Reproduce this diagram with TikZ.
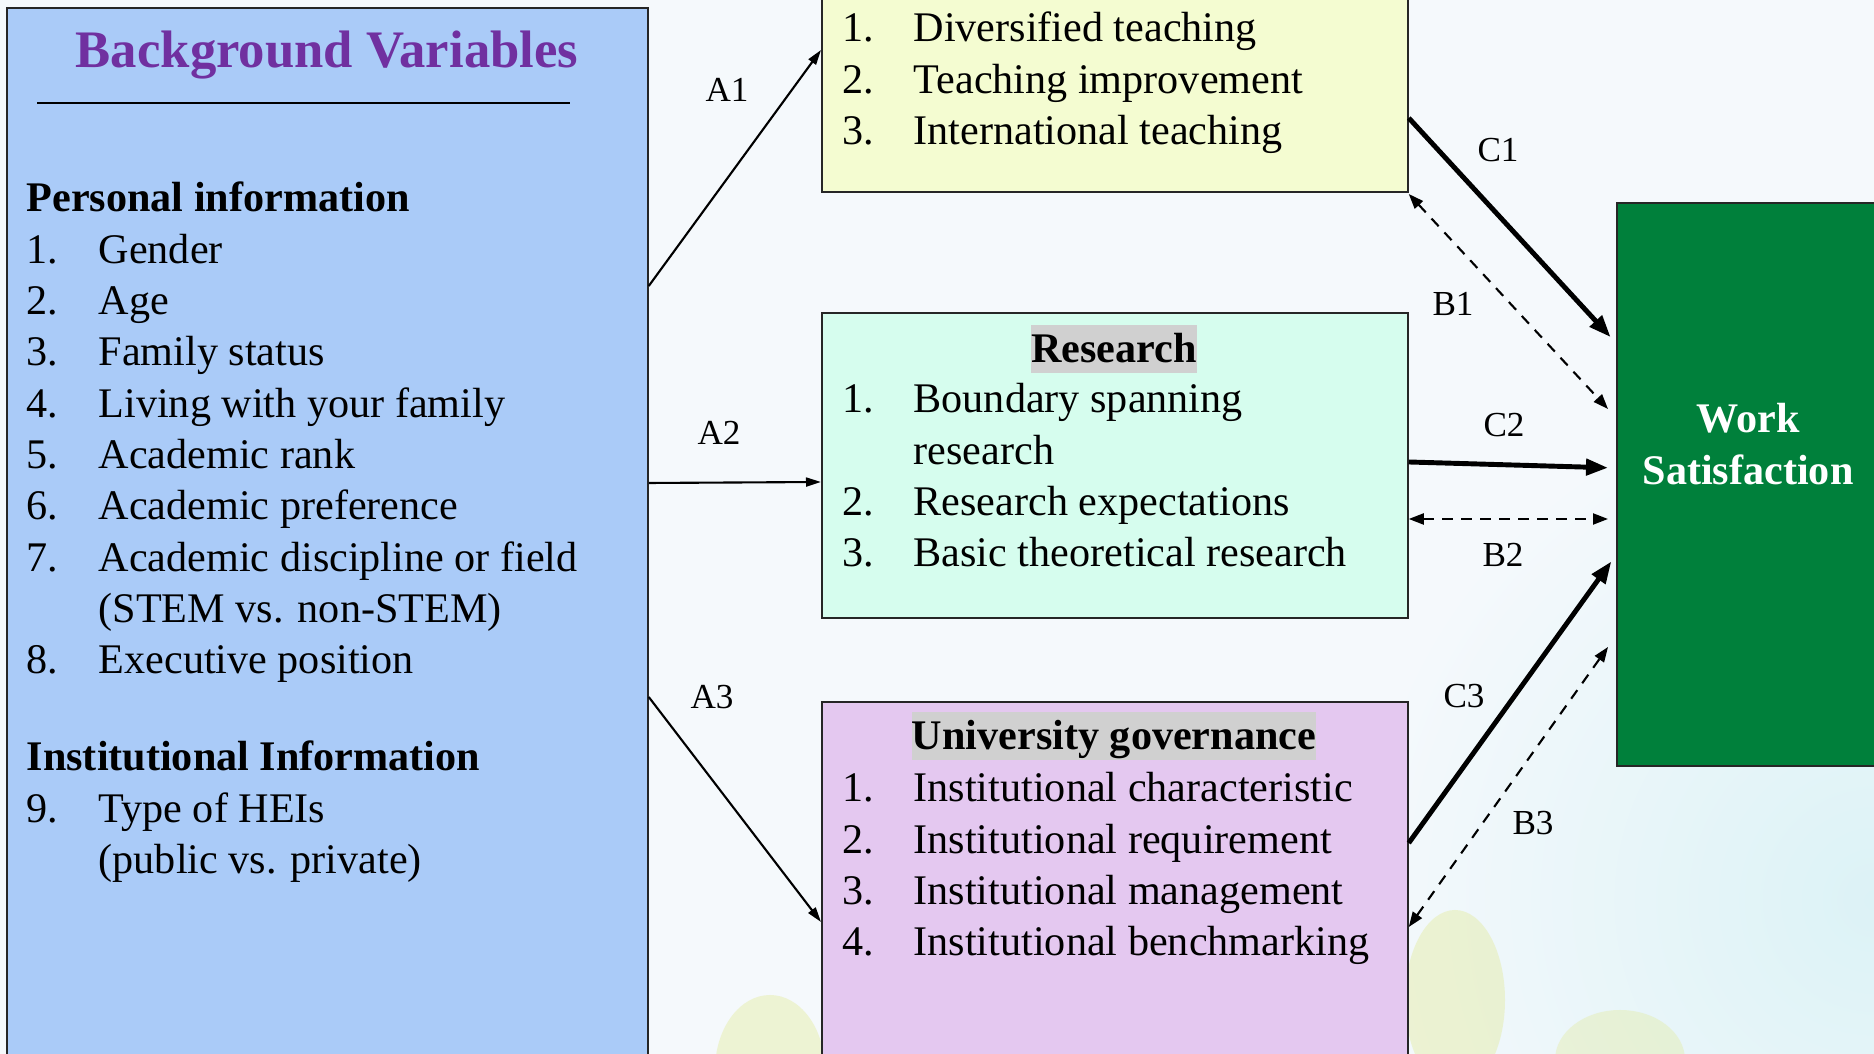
\documentclass[tikz,border=0pt]{standalone}
\usepackage{fontspec}
\setmainfont{Liberation Serif}
\usetikzlibrary{arrows.meta}
\definecolor{bgblue}{RGB}{170,203,248}
\definecolor{teachyellow}{RGB}{244,252,209}
\definecolor{researchmint}{RGB}{214,253,238}
\definecolor{govlilac}{RGB}{228,200,240}
\definecolor{satgreen}{RGB}{0,128,59}
\definecolor{titlepurple}{RGB}{112,48,160}
\definecolor{headgray}{RGB}{208,208,208}
\definecolor{paper}{RGB}{245,249,252}
\definecolor{sky}{RGB}{220,242,246}
\definecolor{leaf}{RGB}{226,234,150}
\newcommand{\headbox}[1]{{\setlength{\fboxsep}{0pt}\colorbox{headgray}{\rule[-2.9pt]{0pt}{13.6pt}\textbf{#1}}}}

\begin{document}
\begin{tikzpicture}[
    x=0.1mm, y=-0.1mm,
    every node/.style={font=\fontsize{12}{14.6}\selectfont, inner sep=0pt},
    panel/.style={draw=black!85, line width=0.5pt, anchor=north west, minimum width=58.6mm},
    itemlist/.style={anchor=base west},
    tag/.style={font=\fontsize{10}{12}\selectfont},
    direct/.style={-{Triangle[length=1.5mm,width=0.9mm]}, line width=0.6pt},
    effect/.style={-{Triangle[length=2.2mm,width=1.6mm]}, line width=1.4pt, shorten >=0.8mm},
    mutual/.style={{Triangle[length=1.5mm,width=1.1mm]}-{Triangle[length=1.5mm,width=1.1mm]},
      line width=0.6pt, dash pattern=on 3pt off 2.4pt}
  ]
  \useasboundingbox (0,0) rectangle (1874,1054);
  \clip (0,0) rectangle (1874,1054);

  % backdrop
  \fill[paper] (0,0) rectangle (1874,1054);
  \shade[inner color=sky, outer color=paper] (1874,900) circle [radius=520];
  \fill[leaf, opacity=0.4] (770,1070) ellipse [x radius=55, y radius=75];
  \fill[leaf, opacity=0.4] (1455,1000) ellipse [x radius=50, y radius=90];
  \fill[leaf, opacity=0.35] (1620,1060) ellipse [x radius=65, y radius=50];

  % boxes
  \node[panel, fill=bgblue, minimum width=64.1mm, minimum height=106mm] (bgvar) at (6,7) {};
  \node[panel, fill=teachyellow, minimum height=21.5mm] (teach) at (821,-24) {};
  \node[panel, fill=researchmint, minimum height=30.5mm] (research) at (821,312) {};
  \node[panel, fill=govlilac, minimum height=40mm] (gov) at (821,701) {};
  \node[panel, fill=satgreen, minimum width=30mm, minimum height=56.3mm] (worksat) at (1616,202) {};

  % background variables
  \node[anchor=base, font=\fontsize{15}{18}\selectfont\bfseries, text=titlepurple] (bgtitle) at (327,68) {Background Variables};
  \draw[line width=0.5pt] (37,103) -- (570,103);
  \node[itemlist] (personal) at (26,212) {\begin{tabular}[t]{@{}p{7.2mm}@{}l@{}}
    \multicolumn{2}{@{}l@{}}{\textbf{Personal information}}\\
    1. & Gender\\
    2. & Age\\
    3. & Family status\\
    4. & Living with your family\\
    5. & Academic rank\\
    6. & Academic preference\\
    7. & Academic discipline or field\\
       & (STEM vs. non-STEM)\\
    8. & Executive position
  \end{tabular}};
  \node[itemlist] (institutional) at (26,771) {\begin{tabular}[t]{@{}p{7.2mm}@{}l@{}}
    \multicolumn{2}{@{}l@{}}{\textbf{Institutional Information}}\\
    9. & Type of HEIs\\
       & (public vs. private)
  \end{tabular}};

  % teaching
  \node[itemlist] (teachlist) at (842,42) {\begin{tabular}[t]{@{}p{7.1mm}@{}l@{}}
    1. & Diversified teaching\\
    2. & Teaching improvement\\
    3. & International teaching
  \end{tabular}};

  % research
  \node[anchor=base] (restitle) at (1114,363) {\headbox{Research}};
  \node[itemlist] (reslist) at (842,413) {\begin{tabular}[t]{@{}p{7.1mm}@{}l@{}}
    1. & Boundary spanning\\
       & research\\
    2. & Research expectations\\
    3. & Basic theoretical research
  \end{tabular}};

  % governance
  \node[anchor=base] (govtitle) at (1114,750) {\headbox{University governance}};
  \node[itemlist] (govlist) at (842,802) {\begin{tabular}[t]{@{}p{7.1mm}@{}l@{}}
    1. & Institutional characteristic\\
    2. & Institutional requirement\\
    3. & Institutional management\\
    4. & Institutional benchmarking
  \end{tabular}};

  % outcome
  \node[anchor=base, text=white, font=\fontsize{12}{14.6}\selectfont\bfseries] (sattext) at (1748,433)
    {\begin{tabular}[t]{@{}c@{}}Work\\Satisfaction\end{tabular}};

  % paths
  \draw[direct] (bgvar.east |- 0,286) -- (teach.west |- 0,50);
  \draw[direct] (bgvar.east |- 0,483) -- (research.west |- 0,482);
  \draw[direct] (bgvar.east |- 0,697) -- (gov.west |- 0,922);
  \draw[effect] (teach.east |- 0,118) -- (worksat.west |- 0,343);
  \draw[effect] (research.east |- 0,462) -- (worksat.west |- 0,468);
  \draw[effect] (gov.east |- 0,843) -- (worksat.west |- 0,555);
  \draw[mutual] (teach.east |- 0,194) -- ([xshift=-0.8mm]worksat.west |- 0,409);
  \draw[mutual] (research.east |- 0,519) -- ([xshift=-0.8mm]worksat.west |- 0,519);
  \draw[mutual] (gov.east |- 0,927) -- ([xshift=-0.8mm]worksat.west |- 0,647);

  \foreach \name/\pos in {A1/{727,90}, A2/{719,433}, A3/{712,697},
                          C1/{1498,150}, C2/{1504,425}, C3/{1464,696},
                          B1/{1453,304}, B2/{1503,555}, B3/{1533,823}}
    \node[tag] (\name) at (\pos) {\name};
\end{tikzpicture}
\end{document}
